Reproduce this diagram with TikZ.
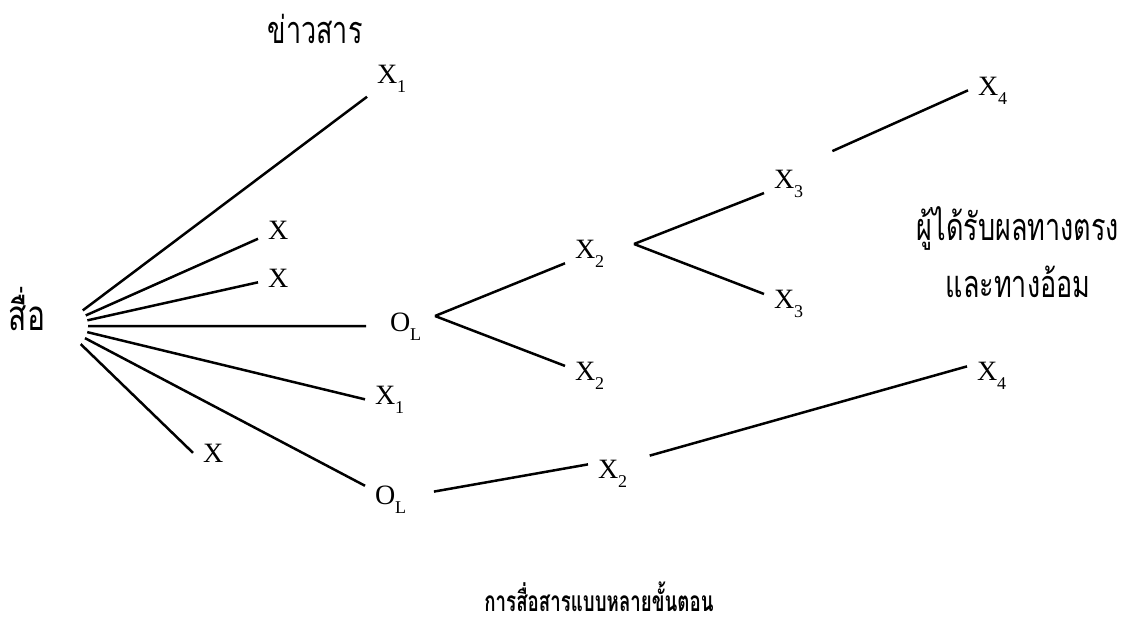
\documentclass[tikz,border=0pt]{standalone}
\usepackage{fontspec}
\usepackage{graphicx}
\setmainfont{Liberation Serif}
\newfontfamily\thaifont[Script=Thai]{Loma}
\usetikzlibrary{positioning}
\newcommand{\lowidx}[1]{\raisebox{-9pt}{\fontsize{18}{18}\selectfont #1}}
\newcommand{\tall}[1]{\scalebox{1}[1.4]{#1}}

\begin{document}
\begin{tikzpicture}[
    x=1pt, y=-1pt,
    term/.style={inner sep=0pt, outer sep=10pt, anchor=base west, font=\fontsize{28}{30}\selectfont},
    thai/.style={inner sep=0pt, anchor=base, align=center, font=\thaifont\fontsize{27}{57}\selectfont},
    link/.style={line width=2.5pt},
]
\useasboundingbox (0,0) rectangle (1125,621);

% Nodes
\node[thai, font=\thaifont\fontsize{30}{34}\selectfont] (media) at (27,330) {\tall{สื่อ}};
\node[thai] (news) at (315,43) {\tall{ข่าวสาร}};
\node[term] (x1top) at (367,83) {X\lowidx{1}};
\node[term] (xa) at (258,239) {X};
\node[term] (xb) at (258,287) {X};
\node[term] (olmid) at (380,331) {O\lowidx{L}};
\node[term] (x1low) at (365,404) {X\lowidx{1}};
\node[term] (xbot) at (193,462) {X};
\node[term] (olbot) at (365,504) {O\lowidx{L}};
\node[term] (x2up) at (565,258) {X\lowidx{2}};
\node[term] (x2low) at (565,380) {X\lowidx{2}};
\node[term] (x2bot) at (588,478) {X\lowidx{2}};
\node[term] (x3up) at (764,188) {X\lowidx{3}};
\node[term] (x3low) at (764,308) {X\lowidx{3}};
\node[term] (x4up) at (968,95) {X\lowidx{4}};
\node[term] (x4low) at (967,380) {X\lowidx{4}};
\node[thai] (affected) at (1018,297) {\tall{ผู้ได้รับผลทางตรง}\\\tall{และทางอ้อม}};
\node[thai, font=\thaifont\bfseries\fontsize{18.7}{20}\selectfont] (caption) at (599,611) {\scalebox{1}[1.5]{การสื่อสารแบบหลายขั้นตอน}};

% Fork points
\coordinate (fan) at (62,326);
\coordinate (fork1) at (435,316);
\coordinate (fork2) at (634,244);

% Lines from the media
\foreach \t/\s in {x1top/0, xa/0, xb/0, olmid/14, x1low.west/0, olbot/0, xbot.west/0}
    \draw[link, shorten <=26pt, shorten >=\s pt] (fan) -- (\t);

% Lines between steps
\draw[link] (fork1) -- (x2up);
\draw[link] (fork1) -- (x2low);
\draw[link] (fork2) -- (x3up);
\draw[link] (fork2) -- (x3low);
\draw[link, shorten <=21pt] (x3up.north east) -- (x4up.west);
\draw[link, shorten <=18pt] (olbot) -- (x2bot.160);
\draw[link, shorten <=13pt] (x2bot.30) -- (x4low.160);

\end{tikzpicture}
\end{document}
